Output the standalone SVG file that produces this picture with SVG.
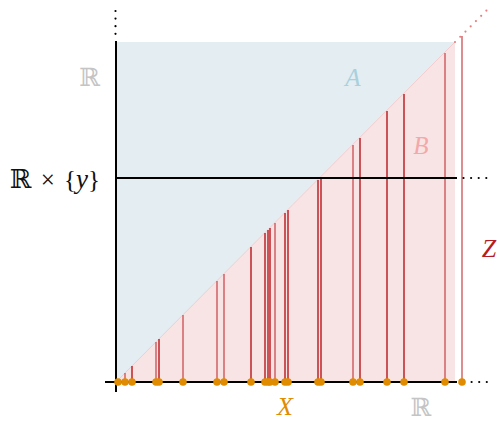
<svg xmlns="http://www.w3.org/2000/svg" width="497" height="422" viewBox="0 0 497 422">
<style>
.ax{stroke:#000;stroke-width:2;fill:none}
.dots{stroke:#000;stroke-width:2.2;stroke-linecap:round;stroke-dasharray:0 7.6;fill:none}
.za{stroke:#b8181e;stroke-width:1.5;opacity:0.95}
.zb{stroke:#c0272d;stroke-width:1.5;opacity:0.7}
.pt{fill:#e08c00}
.lbl{font-family:"Liberation Serif","DejaVu Serif",serif}
.it{font-style:italic}
</style>
<g id="regionA"><polygon points="116,42 455,42 116,382" fill="#e3edf2"/></g>
<g id="regionB"><polygon points="116,382 455,42 455,382" fill="#f9e4e5"/>
<line x1="116" y1="382" x2="455" y2="42" stroke="#f2c4c4" stroke-width="0.8"/></g>
<g id="connectors">
<line x1="455" y1="42" x2="488" y2="9" stroke="#ea7f7f" stroke-width="2.2" stroke-linecap="round" stroke-dasharray="0 7.4"/>
<g id="Z-lines">
<line class="zb" x1="125" y1="382" x2="125" y2="373"/>
<line class="za" x1="132" y1="382" x2="132" y2="366"/>
<line class="zb" x1="156" y1="382" x2="156" y2="342"/>
<line class="za" x1="159" y1="382" x2="159" y2="339"/>
<line class="zb" x1="183" y1="382" x2="183" y2="315"/>
<line class="zb" x1="217" y1="382" x2="217" y2="281"/>
<line class="zb" x1="224" y1="382" x2="224" y2="274"/>
<line class="za" x1="251" y1="382" x2="251" y2="247"/>
<line class="za" x1="265" y1="382" x2="265" y2="233"/>
<line class="za" x1="268" y1="382" x2="268" y2="230"/>
<line class="za" x1="270" y1="382" x2="270" y2="228"/>
<line class="zb" x1="275" y1="382" x2="275" y2="223"/>
<line class="za" x1="285" y1="382" x2="285" y2="213"/>
<line class="za" x1="288" y1="382" x2="288" y2="210"/>
<line class="za" x1="318" y1="382" x2="318" y2="180"/>
<line class="za" x1="321" y1="382" x2="321" y2="177"/>
<line class="zb" x1="353" y1="382" x2="353" y2="145"/>
<line class="za" x1="360" y1="382" x2="360" y2="138"/>
<line class="za" x1="387" y1="382" x2="387" y2="111"/>
<line class="za" x1="404" y1="382" x2="404" y2="94"/>
<line class="zb" x1="445" y1="382" x2="445" y2="53"/>
<line class="zb" x1="462" y1="382" x2="462" y2="36"/>
</g>
<line class="ax" x1="116" y1="41" x2="116" y2="392"/>
<line class="dots" x1="115.5" y1="11" x2="115.5" y2="34"/>
<line class="ax" x1="105" y1="382" x2="457" y2="382"/>
<line class="dots" x1="464" y1="382" x2="487" y2="382"/>
<line class="ax" x1="116" y1="178" x2="457" y2="178" stroke="#1a1a1a"/>
<line class="dots" x1="463.5" y1="178" x2="487" y2="178"/>
</g>
<g id="X-points">
<circle class="pt" cx="118" cy="382" r="3.8"/>
<circle class="pt" cx="125" cy="382" r="3.8"/>
<circle class="pt" cx="132" cy="382" r="3.8"/>
<circle class="pt" cx="156" cy="382" r="3.8"/>
<circle class="pt" cx="159" cy="382" r="3.8"/>
<circle class="pt" cx="183" cy="382" r="3.8"/>
<circle class="pt" cx="217" cy="382" r="3.8"/>
<circle class="pt" cx="224" cy="382" r="3.8"/>
<circle class="pt" cx="251" cy="382" r="3.8"/>
<circle class="pt" cx="265" cy="382" r="3.8"/>
<circle class="pt" cx="268" cy="382" r="3.8"/>
<circle class="pt" cx="270" cy="382" r="3.8"/>
<circle class="pt" cx="275" cy="382" r="3.8"/>
<circle class="pt" cx="285" cy="382" r="3.8"/>
<circle class="pt" cx="288" cy="382" r="3.8"/>
<circle class="pt" cx="318" cy="382" r="3.8"/>
<circle class="pt" cx="321" cy="382" r="3.8"/>
<circle class="pt" cx="353" cy="382" r="3.8"/>
<circle class="pt" cx="360" cy="382" r="3.8"/>
<circle class="pt" cx="387" cy="382" r="3.8"/>
<circle class="pt" cx="404" cy="382" r="3.8"/>
<circle class="pt" cx="445" cy="382" r="3.8"/>
<circle class="pt" cx="462" cy="382" r="3.8"/>
</g>
<g id="labels">
<text class="lbl" x="100" y="86" font-size="25" fill="#c4c4c4" text-anchor="end">ℝ</text>
<text class="lbl" x="100" y="188" font-size="25" fill="#111" text-anchor="end"><tspan font-size="26">ℝ</tspan><tspan dx="3"> × </tspan><tspan dx="3">{</tspan><tspan class="it" font-size="27">y</tspan>}</text>
<text class="lbl it" x="353" y="86" font-size="25" fill="#a9d0dd" text-anchor="middle">A</text>
<text class="lbl it" x="421" y="154" font-size="25" fill="#f2a9a9" text-anchor="middle">B</text>
<text class="lbl it" x="489" y="257" font-size="26" fill="#b51d22" text-anchor="middle">Z</text>
<text class="lbl it" x="285" y="415" font-size="26" fill="#e08c00" text-anchor="middle">X</text>
<text class="lbl" x="421" y="416" font-size="25" fill="#c4c4c4" text-anchor="middle">ℝ</text>
</g>
</svg>
